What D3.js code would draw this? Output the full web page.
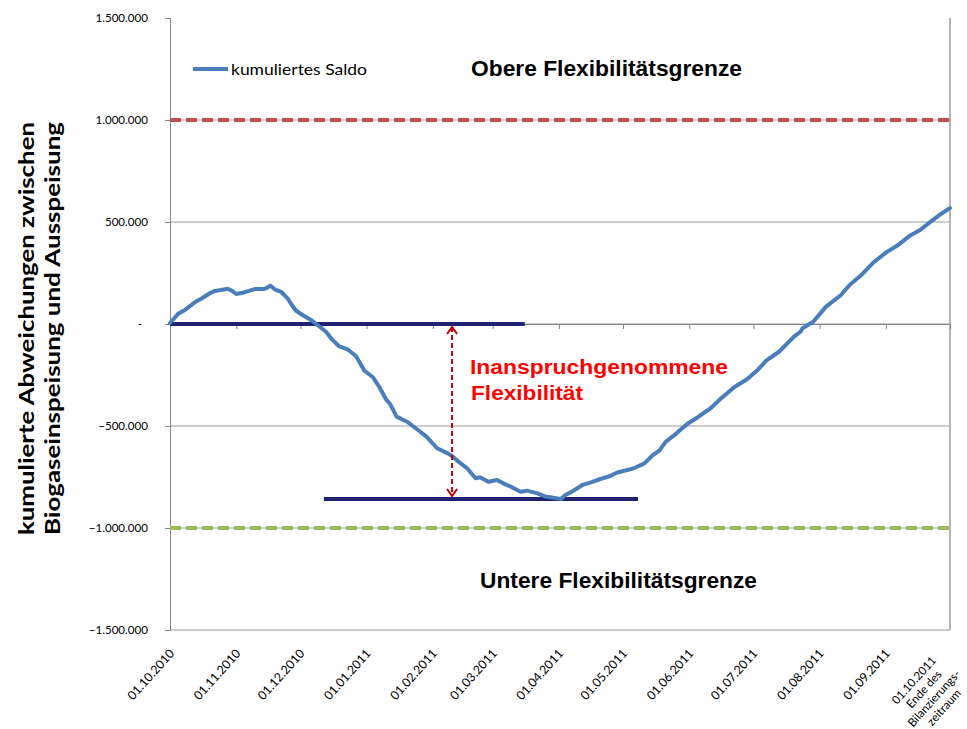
<!DOCTYPE html>
<html>
<head>
<meta charset="utf-8">
<script src="https://cdn.jsdelivr.net/npm/d3@7"></script>
<style>
  body { margin: 0; background: #fff; }
</style>
</head>
<body>
<script>

// Tage seit 01.10.2010 und kumuliertes Saldo (in Tausend)
var tage = [0,4,7,9,12,15,19,21,24,27,29,31,34,37,40,44,45,47,49,52,
  55,57,59,62,66,69,73,76,79,83,87,91,95,98,101,103,106,111,115,120,
  125,130,132,135,139,143,145,149,153,157,160,164,167,172,176,179,183,185,188,193,
  197,201,206,209,214,217,222,226,229,232,237,242,247,253,257,264,270,275,279,285,
  292,295,296,301,307,314,318,323,329,335,340,346,351,356,360,364,365];
var saldo = [5,52,69,85,109,126,153,162,167,173,163,147,153,162,172,172,175,188,170,158,
  126,93,65,44,20,-5,-38,-78,-108,-124,-157,-229,-261,-310,-368,-392,-454,-479,-511,-552,
  -609,-634,-647,-675,-707,-756,-751,-773,-765,-786,-800,-822,-817,-830,-847,-851,-858,-838,-822,-789,
  -776,-761,-745,-729,-716,-707,-683,-642,-621,-577,-536,-490,-457,-413,-373,-310,-271,-225,-180,-136,
  -62,-38,-21,11,85,142,191,235,300,350,382,431,461,502,534,562,568];

var monate = ["01.10.2010","01.11.2010","01.12.2010","01.01.2011","01.02.2011","01.03.2011",
  "01.04.2011","01.05.2011","01.06.2011","01.07.2011","01.08.2011","01.09.2011","01.10.2011"];
var zusatz = ["Ende des", "Bilanzierungs-", "zeitraum"];
var yTicks = [-1500000,-1000000,-500000,0,500000,1000000,1500000];
var grenzen = [1000000, -1000000];
var grenzFarben = ["#C0504D", "#9BBB59"];
var spanneOben = [["2010-10-01", 0], ["2011-03-16", 0]];
var spanneUnten = [["2010-12-12", -858000], ["2011-05-08", -858000]];
var pfeil = ["2011-02-10", 0, -858000];

var W = 967, H = 729;
var m = {top: 18, right: 17, bottom: 99, left: 170};
var parse = d3.timeParse("%Y-%m-%d");
var start = parse("2010-10-01");
var fmt = d3.formatLocale({decimal: ",", thousands: ".", grouping: [3], currency: ["", "€"]}).format(",.0f");

var x = d3.scaleTime().domain([start, parse("2011-10-01")]).range([m.left, W - m.right]);
var y = d3.scaleLinear().domain([-1500000, 1500000]).range([H - m.bottom, m.top]);

var svg = d3.select("body").append("svg")
  .attr("width", W).attr("height", H)
  .style("font-family", "Lato, 'Open Sans', sans-serif");

// Gitternetz
svg.append("g").selectAll("line")
  .data(yTicks.filter(function(d){ return d < 1500000; }))
  .enter().append("line")
  .attr("x1", m.left).attr("x2", W - m.right)
  .attr("y1", function(d){ return y(d); }).attr("y2", function(d){ return y(d); })
  .attr("stroke", "#9a9a9a").attr("stroke-width", 1);

// rechter Rand
svg.append("line")
  .attr("x1", W - m.right).attr("x2", W - m.right)
  .attr("y1", m.top).attr("y2", H - m.bottom)
  .attr("stroke", "#b5b5b5").attr("stroke-width", 2);

// y-Achse
var yAxis = d3.axisLeft(y).tickValues(yTicks).tickSize(5).tickPadding(17)
  .tickFormat(function(d){ return d === 0 ? "-" : fmt(d); });
var gy = svg.append("g").attr("transform", "translate(" + m.left + ",0)").call(yAxis);
gy.select(".domain").attr("stroke", "#868686");
gy.selectAll(".tick line").attr("stroke", "#868686");
gy.selectAll("text").attr("font-size", "11.6px").attr("fill", "#000")
  .attr("font-family", "Lato, sans-serif")
  .attr("dx", function(d){ return d === 0 ? -6 : 0; });

// x-Achse auf der Nulllinie
var xAxis = d3.axisBottom(x).ticks(d3.timeMonth.every(1)).tickSize(5).tickFormat("");
var gx = svg.append("g").attr("transform", "translate(0," + y(0) + ")").call(xAxis);
gx.select(".domain").attr("stroke", "#868686");
gx.selectAll(".tick line").attr("stroke", "#868686");

// Monatsbeschriftung unten
var mDaten = d3.timeMonth.range(start, d3.timeDay.offset(parse("2011-10-01"), 1));
var lab = svg.append("g").selectAll("g")
  .data(mDaten)
  .enter().append("g")
  .attr("transform", function(d){ return "translate(" + (x(d) + 5) + "," + (H - m.bottom + 24) + ") rotate(-48)"; });

lab.each(function(d, i) {
  var g = d3.select(this);
  if (i < monate.length - 1) {
    g.append("text").attr("text-anchor", "end").attr("font-size", "12.3px")
      .attr("fill", "#000").text(monate[i]);
  } else {
    var zeilen = [monate[i]].concat(zusatz);
    g.selectAll("text").data(zeilen).enter().append("text")
      .attr("text-anchor", "middle").attr("font-size", "11.6px").attr("fill", "#000")
      .attr("x", -47).attr("y", function(z, k){ return -9 + k * 13.5; })
      .text(function(z){ return z; });
  }
});

// Flexibilitätsgrenzen
svg.append("g").selectAll("line")
  .data(grenzen)
  .enter().append("line")
  .attr("x1", m.left).attr("x2", W - m.right)
  .attr("y1", function(d){ return y(d); }).attr("y2", function(d){ return y(d); })
  .attr("stroke", function(d, i){ return grenzFarben[i]; })
  .attr("stroke-width", 4).attr("stroke-dasharray", "11,5");

// Spanne (dunkelblau)
[spanneOben, spanneUnten].forEach(function(s) {
  svg.append("line")
    .attr("x1", x(parse(s[0][0]))).attr("x2", x(parse(s[1][0])))
    .attr("y1", y(s[0][1])).attr("y2", y(s[1][1]))
    .attr("stroke", "#1F2270").attr("stroke-width", 4);
});

// kumuliertes Saldo
var punkte = tage.map(function(t, i){ return {d: d3.timeDay.offset(start, t), v: saldo[i] * 1000}; });
var linie = d3.line().x(function(p){ return x(p.d); }).y(function(p){ return y(p.v); });
svg.append("path").datum(punkte)
  .attr("d", linie)
  .attr("fill", "none").attr("stroke", "#4A7EBB").attr("stroke-width", 4)
  .attr("stroke-linejoin", "round").attr("stroke-linecap", "round");

// Pfeil
var px = x(parse(pfeil[0])), py1 = y(pfeil[1]), py2 = y(pfeil[2]);
svg.append("line")
  .attr("x1", px).attr("x2", px).attr("y1", py1 + 3).attr("y2", py2 - 3)
  .attr("stroke", "#C00000").attr("stroke-width", 2).attr("stroke-dasharray", "5,3");
svg.append("path")
  .attr("d", "M" + (px - 5) + "," + (py1 + 10) + "L" + px + "," + (py1 + 3) + "L" + (px + 5) + "," + (py1 + 10) +
             "M" + (px - 5) + "," + (py2 - 10) + "L" + px + "," + (py2 - 3) + "L" + (px + 5) + "," + (py2 - 10))
  .attr("fill", "none").attr("stroke", "#C00000").attr("stroke-width", 2);

// Texte
function txt(xp, yp, s, size, color, len) {
  return svg.append("text").attr("x", xp).attr("y", yp)
    .attr("font-family", "'Liberation Sans', Arial, sans-serif")
    .attr("font-weight", "bold").attr("font-size", size).attr("fill", color)
    .attr("textLength", len).attr("lengthAdjust", "spacingAndGlyphs")
    .text(s);
}
txt(471, 76, "Obere Flexibilitätsgrenze", "22px", "#000", 271);
txt(480, 588, "Untere Flexibilitätsgrenze", "22px", "#000", 277);
txt(470, 374, "Inanspruchgenommene", "20px", "#FF0000", 258);
txt(471, 400, "Flexibilität", "20px", "#FF0000", 112);

// Legende
svg.append("line").attr("x1", 193).attr("x2", 228).attr("y1", 69).attr("y2", 69)
  .attr("stroke", "#4A7EBB").attr("stroke-width", 4);
svg.append("text").attr("x", 231).attr("y", 75).attr("font-size", "16px")
  .attr("textLength", 136).attr("lengthAdjust", "spacingAndGlyphs")
  .text("kumuliertes Saldo");

// y-Achsentitel
var titel = ["kumulierte Abweichungen zwischen", "Biogaseinspeisung und Ausspeisung"];
svg.append("g").selectAll("text").data(titel).enter().append("text")
  .attr("transform", function(d, i){ return "translate(" + (34 + i * 26) + ",535) rotate(-90)"; })
  .attr("font-weight", "bold").attr("font-size", "21px")
  .attr("textLength", 413).attr("lengthAdjust", "spacingAndGlyphs")
  .text(function(d){ return d; });

</script>
</body>
</html>
